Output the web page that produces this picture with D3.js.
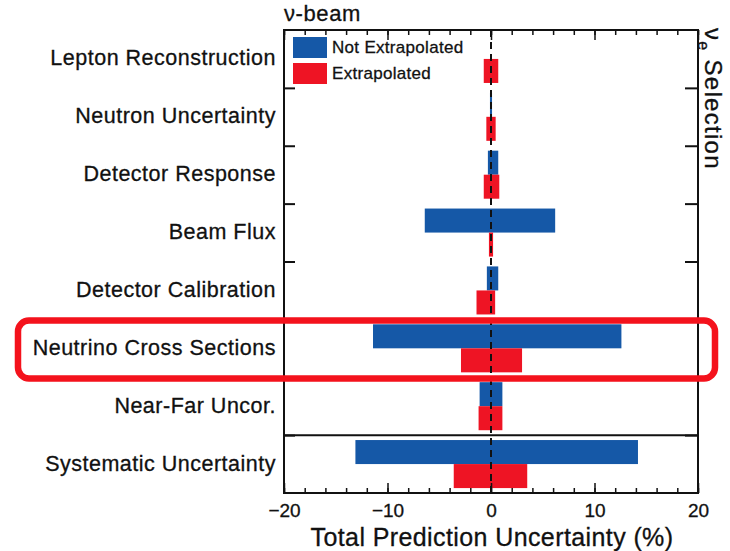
<!DOCTYPE html>
<html>
<head>
<meta charset="utf-8">
<script src="https://cdn.jsdelivr.net/npm/d3@7"></script>
<style>
  body { margin: 0; background: #fff; }
  text { font-family: "Liberation Sans", Arial, sans-serif; fill: #111; stroke: #111; stroke-width: 0.3px; }
</style>
</head>
<body>
<script>
'use strict';

const categories = ["Lepton Reconstruction", "Neutron Uncertainty", "Detector Response", "Beam Flux",
  "Detector Calibration", "Neutrino Cross Sections", "Near-Far Uncor.", "Systematic Uncertainty"];
const notExtrapLow  = [0, -0.1, -0.3, -6.4, -0.4, -11.4, -1.1, -13.1];
const notExtrapHigh = [0, 0.1, 0.7, 6.2, 0.7, 12.6, 1.1, 14.2];
const extrapLow  = [-0.7, -0.45, -0.7, -0.2, -1.4, -2.9, -1.2, -3.6];
const extrapHigh = [0.7, 0.45, 0.8, 0.2, 0.4, 3.0, 1.1, 3.5];
const majorTicks = [-20, -10, 0, 10, 20];
const legendLabels = ["Not Extrapolated", "Extrapolated"];

(function() {
  const blue = "#1558a7", red = "#ee1424";
  const left = 284, right = 698, top = 30, bottom = 493;

  let svg = d3.select('body').append('svg')
    .attr('width', 730)
    .attr('height', 551);

  let x = d3.scaleLinear().domain([-20, 20]).range([left, right]);
  let y = d3.scaleBand().domain(categories).range([top, bottom]).padding(0);
  let rowEdge = d3.scaleLinear().domain([0, categories.length]).range([top, bottom]);
  let bw = y.bandwidth();

  let rows = categories.map((c, i) => ({
    cat: c, nLo: notExtrapLow[i], nHi: notExtrapHigh[i], eLo: extrapLow[i], eHi: extrapHigh[i]
  }));

  // bars
  svg.selectAll('.nbar').data(rows).enter().append('rect')
    .attr('x', d => x(d.nLo))
    .attr('width', d => x(d.nHi) - x(d.nLo))
    .attr('y', d => y(d.cat) + bw * 0.085)
    .attr('height', bw * 0.415)
    .attr('fill', blue);

  svg.selectAll('.ebar').data(rows).enter().append('rect')
    .attr('x', d => x(d.eLo))
    .attr('width', d => x(d.eHi) - x(d.eLo))
    .attr('y', d => y(d.cat) + bw * 0.5)
    .attr('height', bw * 0.415)
    .attr('fill', red);

  // zero dashed line
  svg.append('line')
    .attr('x1', x(0)).attr('x2', x(0))
    .attr('y1', top).attr('y2', bottom)
    .attr('stroke', '#111').attr('stroke-width', 2)
    .attr('stroke-dasharray', '7,5');

  // separator above total
  svg.append('line')
    .attr('x1', left).attr('x2', right)
    .attr('y1', rowEdge(7)).attr('y2', rowEdge(7))
    .attr('stroke', '#111').attr('stroke-width', 2);

  // x axes, ticks inward
  let minor = d3.range(-20, 21, 2);
  svg.append('g').attr('transform', `translate(0,${bottom})`)
    .call(d3.axisBottom(x).tickValues(minor).tickSize(-5).tickFormat(''))
    .call(g => g.select('.domain').remove());
  svg.append('g').attr('transform', `translate(0,${bottom})`)
    .call(d3.axisBottom(x).tickValues(majorTicks).tickSize(-10).tickPadding(14).tickFormat(d3.format('d')))
    .call(g => g.select('.domain').remove())
    .call(g => g.selectAll('text').style('font-size', '19px').attr('dy', '0.5em'));
  svg.append('g').attr('transform', `translate(0,${top})`)
    .call(d3.axisTop(x).tickValues(minor).tickSize(-5).tickFormat(''))
    .call(g => g.select('.domain').remove());
  svg.append('g').attr('transform', `translate(0,${top})`)
    .call(d3.axisTop(x).tickValues(majorTicks).tickSize(-10).tickFormat(''))
    .call(g => g.select('.domain').remove());
  svg.selectAll('.tick line').attr('stroke', '#111').attr('stroke-width', 1.5);

  // y row boundary ticks
  let edges = d3.range(1, categories.length);
  svg.append('g').attr('transform', `translate(${left},0)`)
    .call(d3.axisLeft(rowEdge).tickValues(edges).tickSize(-11).tickFormat(''))
    .call(g => g.select('.domain').remove())
    .selectAll('line').attr('stroke', '#111').attr('stroke-width', 2);
  svg.append('g').attr('transform', `translate(${right},0)`)
    .call(d3.axisRight(rowEdge).tickValues(edges).tickSize(-13).tickFormat(''))
    .call(g => g.select('.domain').remove())
    .selectAll('line').attr('stroke', '#111').attr('stroke-width', 2);

  // category labels
  svg.append('g').attr('transform', `translate(${left},0)`)
    .call(d3.axisLeft(y).tickSize(0).tickPadding(8))
    .call(g => g.select('.domain').remove())
    .call(g => g.selectAll('text').style('font-size', '21.5px').style('letter-spacing', '0.5px').attr('dy', '0.3em'));

  // frame
  svg.append('rect')
    .attr('x', left).attr('y', top)
    .attr('width', right - left).attr('height', bottom - top)
    .attr('fill', 'none').attr('stroke', '#111').attr('stroke-width', 2);

  // legend
  let legend = svg.append('g').attr('transform', 'translate(293,37)');
  legendLabels.forEach((t, i) => {
    legend.append('rect')
      .attr('x', 0).attr('y', i * 26)
      .attr('width', 34).attr('height', 21)
      .attr('fill', i === 0 ? blue : red);
    legend.append('text')
      .attr('x', 39).attr('y', i * 26 + 16)
      .style('font-size', '17px')
      .style('letter-spacing', '0.3px')
      .text(t);
  });

  // titles
  svg.append('text')
    .attr('x', left).attr('y', 21)
    .style('font-size', '22px')
    .style('letter-spacing', '0.6px')
    .text('\u03bd-beam');

  let side = svg.append('text')
    .attr('transform', 'translate(705,28)rotate(90)')
    .style('font-size', '24px')
    .style('letter-spacing', '1.3px');
  side.append('tspan').text('\u03bd');
  side.append('tspan').attr('dy', 7).style('font-size', '16px').text('e');
  side.append('tspan').attr('dy', -7).text(' Selection');

  svg.append('text')
    .attr('x', (left + right) / 2 + 1).attr('y', 546)
    .attr('text-anchor', 'middle')
    .style('font-size', '25px')
    .style('letter-spacing', '0.4px')
    .text('Total Prediction Uncertainty (%)');

  // highlight box
  svg.append('rect')
    .attr('x', 18).attr('y', 320.5)
    .attr('width', 697).attr('height', 58)
    .attr('rx', 11)
    .attr('fill', 'none')
    .attr('stroke', '#f4121c')
    .attr('stroke-width', 6.5);
})();
</script>
</body>
</html>
